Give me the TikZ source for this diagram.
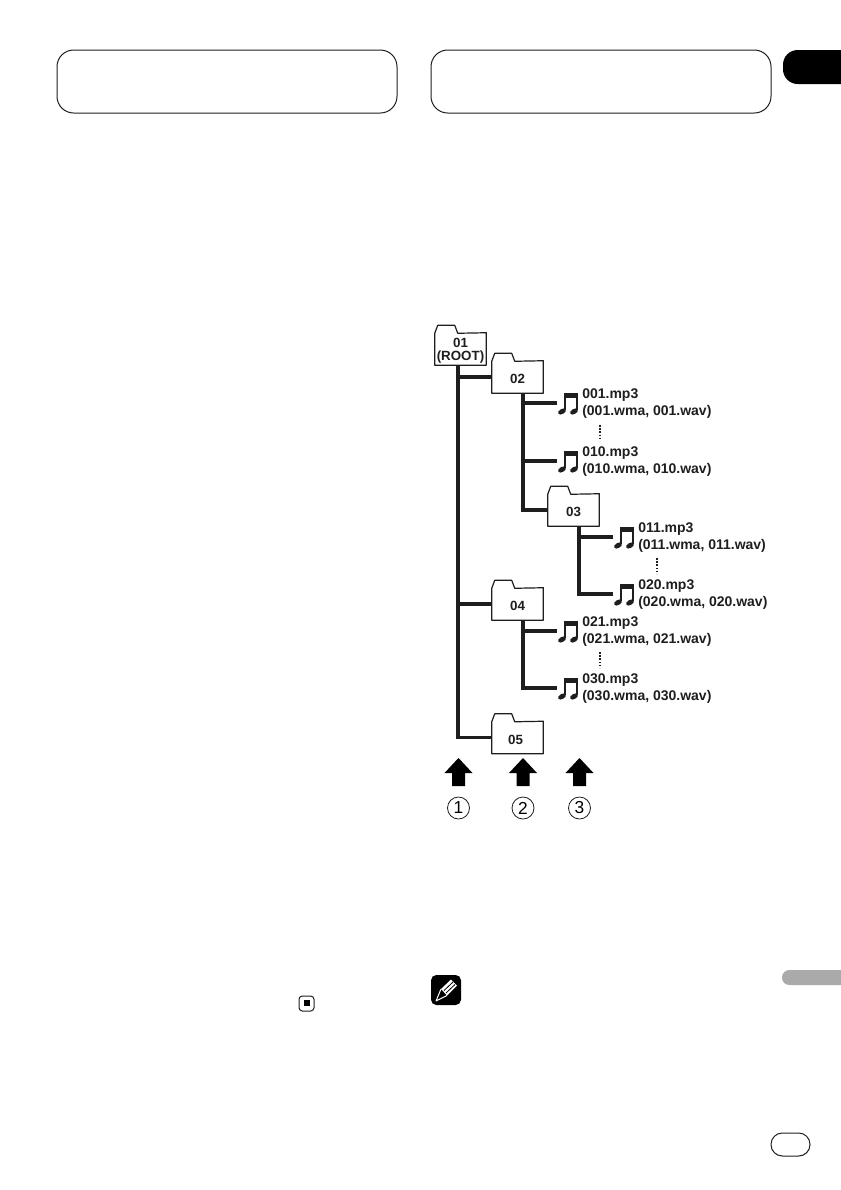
\documentclass[tikz,border=0pt]{standalone}
\usepackage{fontspec}
\setmainfont{Liberation Sans}
\usepackage{tikz}
\usetikzlibrary{calc, positioning}
\definecolor{inkblack}{RGB}{30, 30, 30}
\definecolor{tabgray}{RGB}{170, 170, 170}
\tikzset{
  pagebox/.style={draw=inkblack, line width=0.75pt, rounded corners=12.5pt},
  folderbody/.style={minimum width=38.25pt, minimum height=24pt, inner sep=0pt, align=center, font=\fontsize{10}{9.75}\selectfont\bfseries, text=inkblack},
  folderline/.style={draw=inkblack, line width=0.9pt, fill=white, line join=round},
  trunk/.style={draw=inkblack, line width=2.4pt},
  stem/.style={draw=inkblack, line width=1.4pt},
  filelabel/.style={anchor=west, inner sep=0pt, align=left, font=\fontsize{10.5}{12.75}\selectfont\bfseries, text=inkblack},
  dotline/.style={draw=inkblack, line width=1.2pt, dash pattern=on 1.2pt off 1.2pt},
  circlenum/.style={draw=inkblack, line width=0.6pt, circle, minimum size=16.5pt, inner sep=0pt, font=\fontsize{13}{13}\selectfont}
}

\begin{document}
\begin{tikzpicture}[x=0.75pt, y=-0.75pt]
\useasboundingbox (0,0) rectangle (840,1190);

% Page furniture
\draw[pagebox] (57,50) rectangle (397,113);
\draw[pagebox] (431,50) rectangle (771,113);
\fill[black, rounded corners=11pt] (860,50) -- (783,50) -- (783,84) -- (860,84) -- cycle;
\fill[tabgray, rounded corners=5.5pt] (860,970) -- (782,970) -- (782,985) -- (860,985) -- cycle;
\draw[pagebox, rounded corners=8.5pt] (771,1133) rectangle (810,1156);
\draw[pagebox, rounded corners=2.5pt] (299,996) rectangle (314,1011);
\fill[black] (304,1000) rectangle (310,1006);

% Note mark
\fill[black, rounded corners=4pt] (431,975) rectangle (461,1005);
\fill[white] (441,989) -- (451,979.5) -- (457,985.5) -- (447,995.5) -- cycle;
\draw[black, line width=0.6pt] (444,990.5) -- (453,982) (446,993) -- (455,984.5);
\draw[white, line width=0.75pt, line join=round] (441,989) -- (436,1001) -- (447,995.5);

% Folders
\foreach \name/\x/\y/\label in {
    f01/460.5/349/{01\\(ROOT)},
    f02/517.5/377/02,
    f03/573.5/510/03,
    f04/517.5/604/04,
    f05/517.5/737.5/05
} {
    \node[folderbody] (\name) at (\x,\y) {};
    \draw[folderline] (\name.south west) -- ++(0,-32) -- ++(3,-8) -- ++(17,0) -- ++(3,8) -- (\name.north east) -- (\name.south east) -- cycle;
    \node[folderbody, yshift=-1.5pt] at (\name) {\label};
}

% Tree lines
\coordinate (trunka) at ($(f01.south)+(-2.5,0)$);
\coordinate (trunkb) at ($(f02.south)+(5.5,0)$);
\coordinate (trunkc) at ($(f03.south)+(5.5,0)$);
\coordinate (trunkd) at ($(f04.south)+(5.5,0)$);
\draw[trunk] (trunka) |- (f05.west);
\draw[trunk] (trunka |- f02.west) -- (f02.west);
\draw[trunk] (trunka |- f04.west) -- (f04.west);
\draw[trunk] (trunkb) |- (f03.west);

% Files
\foreach \num/\parent/\x/\y in {
    001/trunkb/557/403,
    010/trunkb/557/461,
    011/trunkc/613/537,
    020/trunkc/613/594,
    021/trunkd/557/631,
    030/trunkd/557/688
} {
    \coordinate (note\num) at (\x,\y);
    \draw[trunk] (\parent) |- (note\num);
    \draw[stem] ($(note\num)+(8,7)$) -- ($(note\num)+(8,-8)$);
    \draw[stem] ($(note\num)+(20,7)$) -- ($(note\num)+(20,-8)$);
    \fill[inkblack] ($(note\num)+(7,-10)$) rectangle ($(note\num)+(21,-5.5)$);
    \fill[inkblack, shift={($(note\num)+(5,8.5)$)}, rotate=30] (0,0) ellipse (3.2pt and 1.9pt);
    \fill[inkblack, shift={($(note\num)+(17,8.5)$)}, rotate=30] (0,0) ellipse (3.2pt and 1.9pt);
    \node[filelabel] (label\num) at ($(note\num)+(25,1)$) {\num.mp3\\(\num.wma, \num.wav)};
}

% Dots between files
\foreach \name/\x/\y in {dota/600/425, dotb/657/558, dotc/600/652} {
    \coordinate (\name) at (\x,\y);
    \draw[dotline] (\name) -- ++(0,16);
}

% Levels
\foreach \n/\x in {1/458.5, 2/523, 3/579.5} {
    \fill[black] (\x,758) -- (\x+14,773) -- (\x+6.5,773) -- (\x+6.5,786) -- (\x-6.5,786) -- (\x-6.5,773) -- (\x-14,773) -- cycle;
    \node[circlenum] (level\n) at (\x,808) {\n};
}
\end{tikzpicture}
\end{document}
